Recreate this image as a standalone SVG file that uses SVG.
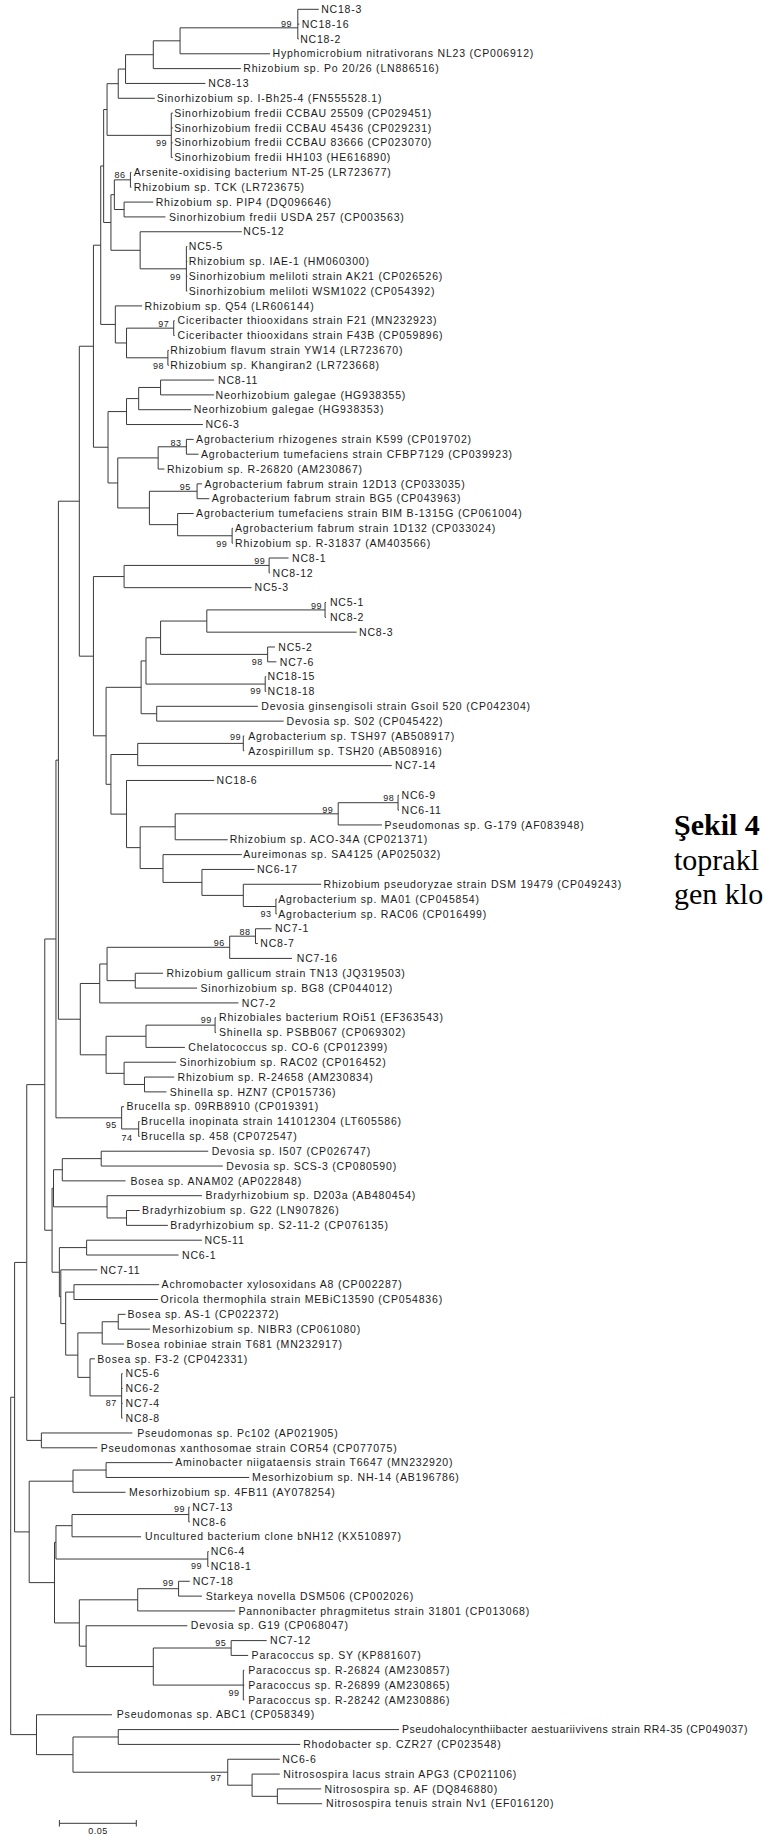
<svg xmlns="http://www.w3.org/2000/svg" width="763" height="1836" viewBox="0 0 763 1836">
<style>
.t{font-family:"Liberation Sans",Arial,sans-serif;font-size:10.5px;letter-spacing:0.8px;fill:#1a1a1a}
.b{font-family:"Liberation Sans",Arial,sans-serif;font-size:9px;letter-spacing:0.5px;fill:#1a1a1a;text-anchor:end}
.cap{font-family:"Liberation Serif","Times New Roman",serif;font-size:30px;fill:#000}
.ln{fill:none;stroke:#3a3a3a;stroke-width:1;vector-effect:non-scaling-stroke}
</style>
<rect width="763" height="1836" fill="#fff"/>
<g id="connectors">
<path class="ln" transform="matrix(0.48662 0 0 14.83 0 -5.53)" d="
M612 1V3 M612 1H655 M612 2H615 M612 3H614
M370 2.25V4 M370 2.25H612 M370 4H555
M315 3.125V5 M315 3.125H370 M315 5H495
M258 4.0625V6 M258 4.0625H315 M258 6H422
M243 5.03V7 M243 5.03H258 M243 7H318
M352 8V11 M352 8H355 M352 9H355 M352 10H355 M352 11H355
M220 6.016V9.5 M220 6.016H243 M220 9.5H352
M268 12V13 M268 12H270 M268 13H270
M255 14V15 M255 14H315 M255 15H340
M235 12.5V14.5 M235 12.5H268 M235 14.5H255
M383 17V20 M383 17H385 M383 18H385 M383 19H385 M383 20H385
M288 16V18.5 M288 16H497 M288 18.5H383
M228 13.5V17.25 M228 13.5H235 M228 17.25H288
M213 7.758V15.375 M213 7.758H220 M213 15.375H228
M357 22V23 M357 22H359 M357 23H359
M345 24V25 M345 24H347 M345 25H347
M260 22.5V24.5 M260 22.5H357 M260 24.5H345
M237 21V23.5 M237 21H292 M237 23.5H260
M207 11.566V22.25 M207 11.566H213 M207 22.25H237
M330 26V27 M330 26H440 M330 27H440
M285 26.5V28 M285 26.5H330 M285 28H393
M260 27.25V29 M260 27.25H285 M260 29H417
M383 30V31 M383 30H398 M383 31H408
M325 30.5V32 M325 30.5H383 M325 32H338
M405 33V34 M405 33H415 M405 34H430
M477 36V37 M477 36H479 M477 37H479
M365 35V36.5 M365 35H398 M365 36.5H477
M307 33.5V35.75 M307 33.5H405 M307 35.75H365
M242 31.25V34.625 M242 31.25H325 M242 34.625H307
M222 28.125V32.94 M222 28.125H260 M222 32.94H242
M192 16.908V30.53 M192 16.908H207 M192 30.53H222
M553 38V39 M553 38H593 M553 39H555
M255 38.5V40 M255 38.5H553 M255 40H517
M668 41V42 M668 41H670 M668 42H670
M425 41.5V43 M425 41.5H668 M425 43H733
M550 44V45 M550 44H565 M550 45H568
M330 42.25V44.5 M330 42.25H425 M330 44.5H550
M545 46V47 M545 46H547 M545 47H547
M300 43.375V46.5 M300 43.375H330 M300 46.5H545
M322 48V49 M322 48H530 M322 49H583
M290 44.94V48.5 M290 44.94H300 M290 48.5H322
M500 50V51 M500 50H502 M500 51H502
M283 50.5V52 M283 50.5H500 M283 52H805
M818 54V55 M818 54H820 M818 55H820
M695 54.5V56 M695 54.5H818 M695 56H785
M360 55.25V57 M360 55.25H695 M360 57H468
M567 61V62 M567 61H569 M567 62H569
M500 60V61.5 M500 60H660 M500 61.5H567
M415 59V60.75 M415 59H523 M415 60.75H500
M335 58V59.875 M335 58H497 M335 59.875H415
M288 56.125V58.94 M288 56.125H360 M288 58.94H335
M260 53V57.53 M260 53H440 M260 57.53H288
M228 51.25V55.27 M228 51.25H283 M228 55.27H260
M218 46.72V53.26 M218 46.72H290 M218 53.26H228
M192 39.25V49.99 M192 39.25H255 M192 49.99H218
M163 23.72V44.62 M163 23.72H192 M163 44.62H192
M525 63V64 M525 63H558 M525 64H530
M472 63.5V65 M472 63.5H525 M472 65H600
M278 66V67 M278 66H335 M278 67H405
M220 64.25V66.5 M220 64.25H472 M220 66.5H278
M205 65.375V68 M205 65.375H220 M205 68H490
M442 69V70 M442 69H444 M442 70H444
M300 69.5V71 M300 69.5H442 M300 71H380
M297 73V74 M297 73H358 M297 74H342
M255 72V73.5 M255 72H362 M255 73.5H297
M218 70.25V72.75 M218 70.25H300 M218 72.75H255
M165 66.69V71.5 M165 66.69H205 M165 71.5H218
M120 34.17V69.1 M120 34.17H163 M120 69.1H165
M285 76V77 M285 76H287 M285 77H287
M250 75V76.5 M250 75H255 M250 76.5H285
M115 51.63V75.75 M115 51.63H120 M115 75.75H250
M208 78V79 M208 78H428 M208 79H458
M128 78.5V80 M128 78.5H208 M128 80H258
M260 82V83 M260 82H287 M260 83H345
M220 81V82.5 M220 81H415 M220 82.5H260
M110 79.25V81.75 M110 79.25H128 M110 81.75H220
M178 84V85 M178 84H415 M178 85H367
M152 87V88 M152 87H327 M152 88H325
M243 89V90 M243 89H258 M243 90H308
M210 89.5V91 M210 89.5H243 M210 91H255
M250 93V96 M250 93H252 M250 94H252 M250 95H252 M250 96H252
M185 92V94.5 M185 92H195 M185 94.5H250
M160 90.25V93.25 M160 90.25H210 M160 93.25H185
M135 87.5V91.75 M135 87.5H152 M135 91.75H160
M125 86V89.625 M125 86H200 M125 89.625H135
M122 84.5V87.81 M122 84.5H178 M122 87.81H125
M107 80.5V86.16 M107 80.5H110 M107 86.16H122
M92 63.69V83.33 M92 63.69H115 M92 83.33H107
M85 97V98 M85 97H272 M85 98H200
M55 73.51V97.5 M55 73.51H92 M55 97.5H85
M218 99V100 M218 99H355 M218 100H512
M150 99.5V101 M150 99.5H218 M150 101H258
M388 102V103 M388 102H390 M388 103H390
M148 102.5V104 M148 102.5H388 M148 104H290
M427 105V106 M427 105H429 M427 106H429
M115 103.25V105.5 M115 103.25H148 M115 105.5H427
M367 107V108 M367 107H390 M367 108H415
M283 107.5V109 M283 107.5H367 M283 109H483
M475 111V112 M475 111H548 M475 112H510
M500 113V115 M500 113H502 M500 114H502 M500 115H502
M315 111.5V114 M315 111.5H475 M315 114H500
M177 110V112.75 M177 110H385 M177 112.75H315
M163 108.25V111.375 M163 108.25H283 M163 111.375H177
M112 104.375V109.81 M112 104.375H115 M112 109.81H163
M60 100.25V107.09 M60 100.25H150 M60 107.09H112
M30 85.5V103.67 M30 85.5H55 M30 103.67H60
M243 117V118 M243 117H820 M243 118H617
M570 121V122 M570 121H660 M570 122H662
M518 120V121.5 M518 120H575 M518 121.5H570
M468 119V120.75 M468 119H575 M468 120.75H518
M150 117.5V119.875 M150 117.5H243 M150 119.875H468
M75 116V118.69 M75 116H230 M75 118.69H150
M22 94.59V117.34 M22 94.59H30 M22 117.34H75"/>
<path id="scalebar" class="ln" d="M59.4 1823.3H136.3 M59.4 1820V1826.5 M136.3 1820V1826.5"/>
</g>
<g id="leaves">
<g id="L1"><text class="t" x="321.2" y="13.00">NC18-3</text></g>
<g id="L2"><text class="t" x="301.7" y="27.83">NC18-16</text></g>
<g id="L3"><text class="t" x="300.2" y="42.66">NC18-2</text></g>
<g id="L4"><text class="t" x="272.5" y="57.49">Hyphomicrobium nitrativorans NL23 (CP006912)</text></g>
<g id="L5"><text class="t" x="243.3" y="72.32">Rhizobium sp. Po 20/26 (LN886516)</text></g>
<g id="L6"><text class="t" x="208.3" y="87.15">NC8-13</text></g>
<g id="L7"><text class="t" x="156.7" y="101.98">Sinorhizobium sp. I-Bh25-4 (FN555528.1)</text></g>
<g id="L8"><text class="t" x="174.2" y="116.81">Sinorhizobium fredii CCBAU 25509 (CP029451)</text></g>
<g id="L9"><text class="t" x="174.2" y="131.64">Sinorhizobium fredii CCBAU 45436 (CP029231)</text></g>
<g id="L10"><text class="t" x="174.2" y="146.47">Sinorhizobium fredii CCBAU 83666 (CP023070)</text></g>
<g id="L11"><text class="t" x="174.2" y="161.30">Sinorhizobium fredii HH103 (HE616890)</text></g>
<g id="L12"><text class="t" x="133.8" y="176.13">Arsenite-oxidising bacterium NT-25 (LR723677)</text></g>
<g id="L13"><text class="t" x="133.8" y="190.96">Rhizobium sp. TCK (LR723675)</text></g>
<g id="L14"><text class="t" x="155.7" y="205.79">Rhizobium sp. PIP4 (DQ096646)</text></g>
<g id="L15"><text class="t" x="168.9" y="220.62">Sinorhizobium fredii USDA 257 (CP003563)</text></g>
<g id="L16"><text class="t" x="243.3" y="235.45">NC5-12</text></g>
<g id="L17"><text class="t" x="188.8" y="250.28">NC5-5</text></g>
<g id="L18"><text class="t" x="188.8" y="265.11">Rhizobium sp. IAE-1 (HM060300)</text></g>
<g id="L19"><text class="t" x="188.8" y="279.94">Sinorhizobium meliloti strain AK21 (CP026526)</text></g>
<g id="L20"><text class="t" x="188.8" y="294.77">Sinorhizobium meliloti WSM1022 (CP054392)</text></g>
<g id="L21"><text class="t" x="144.5" y="309.60">Rhizobium sp. Q54 (LR606144)</text></g>
<g id="L22"><text class="t" x="177.6" y="324.43">Ciceribacter thiooxidans strain F21 (MN232923)</text></g>
<g id="L23"><text class="t" x="177.6" y="339.26">Ciceribacter thiooxidans strain F43B (CP059896)</text></g>
<g id="L24"><text class="t" x="170.3" y="354.09">Rhizobium flavum strain YW14 (LR723670)</text></g>
<g id="L25"><text class="t" x="170.3" y="368.92">Rhizobium sp. Khangiran2 (LR723668)</text></g>
<g id="L26"><text class="t" x="218.0" y="383.75">NC8-11</text></g>
<g id="L27"><text class="t" x="215.6" y="398.58">Neorhizobium galegae (HG938355)</text></g>
<g id="L28"><text class="t" x="193.7" y="413.41">Neorhizobium galegae (HG938353)</text></g>
<g id="L29"><text class="t" x="205.4" y="428.24">NC6-3</text></g>
<g id="L30"><text class="t" x="196.1" y="443.07">Agrobacterium rhizogenes strain K599 (CP019702)</text></g>
<g id="L31"><text class="t" x="201.0" y="457.90">Agrobacterium tumefaciens strain CFBP7129 (CP039923)</text></g>
<g id="L32"><text class="t" x="166.9" y="472.73">Rhizobium sp. R-26820 (AM230867)</text></g>
<g id="L33"><text class="t" x="204.4" y="487.56">Agrobacterium fabrum strain 12D13 (CP033035)</text></g>
<g id="L34"><text class="t" x="211.7" y="502.39">Agrobacterium fabrum strain BG5 (CP043963)</text></g>
<g id="L35"><text class="t" x="196.1" y="517.22">Agrobacterium tumefaciens strain BIM B-1315G (CP061004)</text></g>
<g id="L36"><text class="t" x="235.0" y="532.05">Agrobacterium fabrum strain 1D132 (CP033024)</text></g>
<g id="L37"><text class="t" x="235.0" y="546.88">Rhizobium sp. R-31837 (AM403566)</text></g>
<g id="L38"><text class="t" x="292.0" y="561.71">NC8-1</text></g>
<g id="L39"><text class="t" x="272.5" y="576.54">NC8-12</text></g>
<g id="L40"><text class="t" x="254.5" y="591.37">NC5-3</text></g>
<g id="L41"><text class="t" x="329.9" y="606.20">NC5-1</text></g>
<g id="L42"><text class="t" x="329.9" y="621.03">NC8-2</text></g>
<g id="L43"><text class="t" x="359.1" y="635.86">NC8-3</text></g>
<g id="L44"><text class="t" x="278.3" y="650.69">NC5-2</text></g>
<g id="L45"><text class="t" x="279.8" y="665.52">NC7-6</text></g>
<g id="L46"><text class="t" x="267.6" y="680.35">NC18-15</text></g>
<g id="L47"><text class="t" x="267.6" y="695.18">NC18-18</text></g>
<g id="L48"><text class="t" x="261.3" y="710.01">Devosia ginsengisoli strain Gsoil 520 (CP042304)</text></g>
<g id="L49"><text class="t" x="286.6" y="724.84">Devosia sp. S02 (CP045422)</text></g>
<g id="L50"><text class="t" x="248.2" y="739.67">Agrobacterium sp. TSH97 (AB508917)</text></g>
<g id="L51"><text class="t" x="248.2" y="754.50">Azospirillum sp. TSH20 (AB508916)</text></g>
<g id="L52"><text class="t" x="395.1" y="769.33">NC7-14</text></g>
<g id="L53"><text class="t" x="216.5" y="784.16">NC18-6</text></g>
<g id="L54"><text class="t" x="401.5" y="798.99">NC6-9</text></g>
<g id="L55"><text class="t" x="401.5" y="813.82">NC6-11</text></g>
<g id="L56"><text class="t" x="384.4" y="828.65">Pseudomonas sp. G-179 (AF083948)</text></g>
<g id="L57"><text class="t" x="229.7" y="843.48">Rhizobium sp. ACO-34A (CP021371)</text></g>
<g id="L58"><text class="t" x="243.3" y="858.31">Aureimonas sp. SA4125 (AP025032)</text></g>
<g id="L59"><text class="t" x="256.9" y="873.14">NC6-17</text></g>
<g id="L60"><text class="t" x="323.6" y="887.97">Rhizobium pseudoryzae strain DSM 19479 (CP049243)</text></g>
<g id="L61"><text class="t" x="278.3" y="902.80">Agrobacterium sp. MA01 (CP045854)</text></g>
<g id="L62"><text class="t" x="278.3" y="917.63">Agrobacterium sp. RAC06 (CP016499)</text></g>
<g id="L63"><text class="t" x="274.9" y="932.46">NC7-1</text></g>
<g id="L64"><text class="t" x="260.3" y="947.29">NC8-7</text></g>
<g id="L65"><text class="t" x="296.8" y="962.12">NC7-16</text></g>
<g id="L66"><text class="t" x="166.4" y="976.95">Rhizobium gallicum strain TN13 (JQ319503)</text></g>
<g id="L67"><text class="t" x="200.5" y="991.78">Sinorhizobium sp. BG8 (CP044012)</text></g>
<g id="L68"><text class="t" x="241.8" y="1006.61">NC7-2</text></g>
<g id="L69"><text class="t" x="219.0" y="1021.44">Rhizobiales bacterium ROi51 (EF363543)</text></g>
<g id="L70"><text class="t" x="219.0" y="1036.27">Shinella sp. PSBB067 (CP069302)</text></g>
<g id="L71"><text class="t" x="188.3" y="1051.10">Chelatococcus sp. CO-6 (CP012399)</text></g>
<g id="L72"><text class="t" x="179.6" y="1065.93">Sinorhizobium sp. RAC02 (CP016452)</text></g>
<g id="L73"><text class="t" x="177.6" y="1080.76">Rhizobium sp. R-24658 (AM230834)</text></g>
<g id="L74"><text class="t" x="169.8" y="1095.59">Shinella sp. HZN7 (CP015736)</text></g>
<g id="L75"><text class="t" x="126.5" y="1110.42">Brucella sp. 09RB8910 (CP019391)</text></g>
<g id="L76"><text class="t" x="141.1" y="1125.25">Brucella inopinata strain 141012304 (LT605586)</text></g>
<g id="L77"><text class="t" x="141.1" y="1140.08">Brucella sp. 458 (CP072547)</text></g>
<g id="L78"><text class="t" x="211.7" y="1154.91">Devosia sp. I507 (CP026747)</text></g>
<g id="L79"><text class="t" x="226.3" y="1169.74">Devosia sp. SCS-3 (CP080590)</text></g>
<g id="L80"><text class="t" x="130.4" y="1184.57">Bosea sp. ANAM02 (AP022848)</text></g>
<g id="L81"><text class="t" x="205.4" y="1199.40">Bradyrhizobium sp. D203a (AB480454)</text></g>
<g id="L82"><text class="t" x="142.1" y="1214.23">Bradyrhizobium sp. G22 (LN907826)</text></g>
<g id="L83"><text class="t" x="170.3" y="1229.06">Bradyrhizobium sp. S2-11-2 (CP076135)</text></g>
<g id="L84"><text class="t" x="204.4" y="1243.89">NC5-11</text></g>
<g id="L85"><text class="t" x="182.0" y="1258.72">NC6-1</text></g>
<g id="L86"><text class="t" x="100.2" y="1273.55">NC7-11</text></g>
<g id="L87"><text class="t" x="161.6" y="1288.38">Achromobacter xylosoxidans A8 (CP002287)</text></g>
<g id="L88"><text class="t" x="160.6" y="1303.21">Oricola thermophila strain MEBiC13590 (CP054836)</text></g>
<g id="L89"><text class="t" x="127.5" y="1318.04">Bosea sp. AS-1 (CP022372)</text></g>
<g id="L90"><text class="t" x="152.3" y="1332.87">Mesorhizobium sp. NIBR3 (CP061080)</text></g>
<g id="L91"><text class="t" x="126.5" y="1347.70">Bosea robiniae strain T681 (MN232917)</text></g>
<g id="L92"><text class="t" x="97.3" y="1362.53">Bosea sp. F3-2 (CP042331)</text></g>
<g id="L93"><text class="t" x="125.5" y="1377.36">NC5-6</text></g>
<g id="L94"><text class="t" x="125.5" y="1392.19">NC6-2</text></g>
<g id="L95"><text class="t" x="125.5" y="1407.02">NC7-4</text></g>
<g id="L96"><text class="t" x="125.5" y="1421.85">NC8-8</text></g>
<g id="L97"><text class="t" x="137.2" y="1436.68">Pseudomonas sp. Pc102 (AP021905)</text></g>
<g id="L98"><text class="t" x="100.7" y="1451.51">Pseudomonas xanthosomae strain COR54 (CP077075)</text></g>
<g id="L99"><text class="t" x="175.2" y="1466.34">Aminobacter niigataensis strain T6647 (MN232920)</text></g>
<g id="L100"><text class="t" x="252.1" y="1481.17">Mesorhizobium sp. NH-14 (AB196786)</text></g>
<g id="L101"><text class="t" x="129.0" y="1496.00">Mesorhizobium sp. 4FB11 (AY078254)</text></g>
<g id="L102"><text class="t" x="192.2" y="1510.83">NC7-13</text></g>
<g id="L103"><text class="t" x="192.2" y="1525.66">NC8-6</text></g>
<g id="L104"><text class="t" x="145.0" y="1540.49">Uncultured bacterium clone bNH12 (KX510897)</text></g>
<g id="L105"><text class="t" x="210.7" y="1555.32">NC6-4</text></g>
<g id="L106"><text class="t" x="210.7" y="1570.15">NC18-1</text></g>
<g id="L107"><text class="t" x="192.7" y="1584.98">NC7-18</text></g>
<g id="L108"><text class="t" x="205.8" y="1599.81">Starkeya novella DSM506 (CP002026)</text></g>
<g id="L109"><text class="t" x="238.4" y="1614.64">Pannonibacter phragmitetus strain 31801 (CP013068)</text></g>
<g id="L110"><text class="t" x="190.8" y="1629.47">Devosia sp. G19 (CP068047)</text></g>
<g id="L111"><text class="t" x="270.1" y="1644.30">NC7-12</text></g>
<g id="L112"><text class="t" x="251.6" y="1659.13">Paracoccus sp. SY (KP881607)</text></g>
<g id="L113"><text class="t" x="248.2" y="1673.96">Paracoccus sp. R-26824 (AM230857)</text></g>
<g id="L114"><text class="t" x="248.2" y="1688.79">Paracoccus sp. R-26899 (AM230865)</text></g>
<g id="L115"><text class="t" x="248.2" y="1703.62">Paracoccus sp. R-28242 (AM230886)</text></g>
<g id="L116"><text class="t" x="116.8" y="1718.45">Pseudomonas sp. ABC1 (CP058349)</text></g>
<g id="L117"><text class="t" x="401.9" y="1733.28" style="letter-spacing:0.5px">Pseudohalocynthiibacter aestuariivivens strain RR4-35 (CP049037)</text></g>
<g id="L118"><text class="t" x="303.2" y="1748.11">Rhodobacter sp. CZR27 (CP023548)</text></g>
<g id="L119"><text class="t" x="282.2" y="1762.94">NC6-6</text></g>
<g id="L120"><text class="t" x="283.2" y="1777.77">Nitrosospira lacus strain APG3 (CP021106)</text></g>
<g id="L121"><text class="t" x="324.6" y="1792.60">Nitrosospira sp. AF (DQ846880)</text></g>
<g id="L122"><text class="t" x="326.0" y="1807.43">Nitrosospira tenuis strain Nv1 (EF016120)</text></g>
</g>
<g id="bootstrap">
<text class="b" x="292.0" y="27">99</text>
<text class="b" x="166.9" y="145.7">99</text>
<text class="b" x="125.5" y="178.3">86</text>
<text class="b" x="181.0" y="279.7">99</text>
<text class="b" x="169.3" y="327">97</text>
<text class="b" x="164.0" y="368.7">98</text>
<text class="b" x="181.5" y="445.7">83</text>
<text class="b" x="190.8" y="489.7">95</text>
<text class="b" x="227.3" y="547">99</text>
<text class="b" x="265.2" y="564">99</text>
<text class="b" x="322.1" y="609">99</text>
<text class="b" x="262.8" y="664.7">98</text>
<text class="b" x="261.3" y="694">99</text>
<text class="b" x="240.9" y="740.3">99</text>
<text class="b" x="394.2" y="801.3">98</text>
<text class="b" x="333.3" y="813">99</text>
<text class="b" x="271.5" y="917">93</text>
<text class="b" x="250.6" y="934.7">88</text>
<text class="b" x="224.8" y="946.3">96</text>
<text class="b" x="211.7" y="1023">99</text>
<text class="b" x="116.8" y="1128">95</text>
<text class="b" x="132.4" y="1141.3">74</text>
<text class="b" x="116.8" y="1405.7">87</text>
<text class="b" x="184.9" y="1512">99</text>
<text class="b" x="201.9" y="1568.7">99</text>
<text class="b" x="173.7" y="1585.7">99</text>
<text class="b" x="226.3" y="1645.7">95</text>
<text class="b" x="239.4" y="1695.7">99</text>
<text class="b" x="221.4" y="1781.3">97</text>
</g>
<g id="scale-label"><text class="b" x="97.9" y="1834" style="text-anchor:middle">0.05</text></g>
<g id="caption">
<text class="cap" x="674" y="835" font-weight="bold">Şekil 4</text>
<text class="cap" x="674" y="870">toprakl</text>
<text class="cap" x="674" y="904">gen klo</text>
</g>
</svg>
